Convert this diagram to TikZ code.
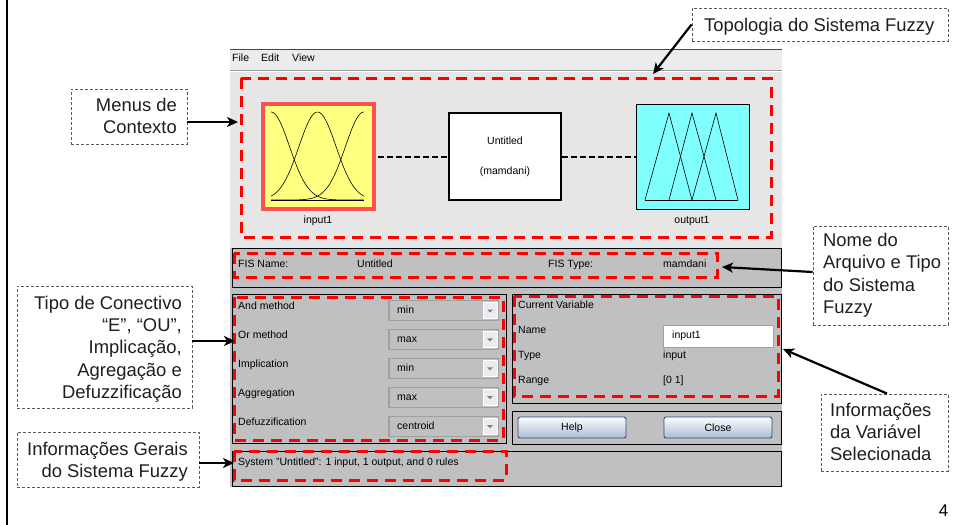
\documentclass[tikz,border=0pt]{standalone}
\usepackage{fontspec}
\setmainfont{Liberation Sans}
\usetikzlibrary{arrows.meta}
\definecolor{winbg}{RGB}{230,230,230}
\definecolor{menubg}{RGB}{236,236,238}
\definecolor{panelgray}{RGB}{192,192,192}
\definecolor{inyellow}{RGB}{255,255,128}
\definecolor{inborder}{RGB}{255,80,80}
\definecolor{outcyan}{RGB}{128,255,255}
\definecolor{calloutgray}{RGB}{90,90,90}
\definecolor{dropborder}{RGB}{160,160,160}
\definecolor{btnblue}{RGB}{45,75,135}
\definecolor{btnlight}{RGB}{252,253,255}
\definecolor{btndark}{RGB}{172,188,214}
\definecolor{arrowbtn}{RGB}{236,236,240}
\definecolor{titleblue}{RGB}{50,70,140}
\begin{document}
\begin{tikzpicture}[x=1pt,y=-1pt,
 reddash/.style={draw=red, line width=3pt, dash pattern=on 11pt off 7pt},
 panel/.style={draw=black, line width=0.9pt},
 callbox/.style={draw=calloutgray, line width=0.9pt, dash pattern=on 3pt off 2pt, inner sep=0},
 calltext/.style={font=\fontsize{18.4}{22.3}\selectfont, inner sep=0, text=black!88},
 wtext/.style={font=\fontsize{10.5}{12}\selectfont, inner sep=0, text height=7.6pt, text depth=2.2pt},
 arr/.style={line width=2.2pt, -{Stealth[length=11pt,width=10pt,inset=3pt]}},
 conn/.style={line width=2pt, dash pattern=on 6pt off 3pt},
 drop/.style={draw=dropborder, line width=1.5pt, fill=panelgray, minimum width=109pt, minimum height=20pt, inner sep=0},
 arrbtn/.style={draw=white, line width=0.8pt, fill=arrowbtn, minimum width=14pt, minimum height=16pt, inner sep=0},
 btn/.style={draw=btnblue, line width=0.9pt, rounded corners=2pt, top color=btnlight, bottom color=btndark, minimum width=108pt, minimum height=21pt, inner sep=0, font=\fontsize{10.5}{12}\selectfont},
 mfline/.style={line width=0.6pt}
]
\useasboundingbox (0,0) rectangle (954,525);
\fill[white] (0,0) rectangle (954,525);
% slide border line
\draw[line width=2.5pt] (7,0) -- (7,525);

% ---------- window ----------
\fill[menubg] (230,49) rectangle (782,70);
\draw[titleblue, line width=1pt] (230,49.5) -- (782,49.5);
\fill[winbg] (230,70) rectangle (782,248);
\draw[black!40, line width=1pt] (230,70) -- (782,70);
\draw[white, line width=1pt] (230,71.2) -- (782,71.2);
\fill[panelgray] (230,248) rectangle (782,487);

\node[wtext, anchor=west] (mfile) at (232,59) {File};
\node[wtext, anchor=west] (medit) at (261,59) {Edit};
\node[wtext, anchor=west] (mview) at (292,59) {View};

% topology area
\draw[reddash] (241,78) rectangle (771,237);

\node[draw=inborder, line width=4pt, fill=inyellow, minimum width=111pt, minimum height=105pt, inner sep=0] (inbox) at (318.5,156.5) {};
\draw[mfline] plot[domain=0:1, samples=60] ({271+93*\x}, {200-88*exp(-(\x*\x)/0.08)});
\draw[mfline] plot[domain=0:1, samples=60] ({271+93*\x}, {200-88*exp(-((\x-0.5)*(\x-0.5))/0.08)});
\draw[mfline] plot[domain=0:1, samples=60] ({271+93*\x}, {200-88*exp(-((\x-1)*(\x-1))/0.08)});
\draw[mfline] (271,200) -- (364,200);
\node[wtext] (inlab) at (318,221) {input1};

\node[draw, line width=1.8pt, fill=white, minimum width=112pt, minimum height=87pt, inner sep=0] (fis) at (505,156.5) {};
\node[wtext] (fisname) at (505,142) {Untitled};
\node[wtext] (fistype) at (505,172) {(mamdani)};

\node[draw, line width=0.8pt, fill=outcyan, minimum width=113pt, minimum height=105pt, inner sep=0] (outbox) at (692.5,156.5) {};
\draw[mfline] (645,200) -- (669,113) -- (692,200);
\draw[mfline] (669,200) -- (692,113) -- (716,200);
\draw[mfline] (692,200) -- (716,113) -- (738,200);
\draw[mfline] (645,200) -- (738,200);
\node[wtext] (outlab) at (692,221) {output1};

\draw[conn, shorten <=2pt] (inbox.east) -- (fis.west);
\draw[conn] (fis.east) -- (outbox.west);

% FIS name panel
\draw[panel] (232,248) rectangle (781,287);
\node[wtext, anchor=west] (fnl) at (238,265) {FIS Name:};
\node[wtext, anchor=west] (fnv) at (357,265) {Untitled};
\node[wtext, anchor=west] (ftl) at (548,265) {FIS Type:};
\node[wtext, anchor=west] (ftv) at (663,265) {mamdani};
\draw[reddash] (234,253) rectangle (717,277);

% methods panel
\draw[panel] (232,294) rectangle (506,443);
\foreach \cy/\val/\lab/\nm in {310.7/min/And method/da, 339.6/max/Or method/db, 368.5/min/Implication/dc, 397.4/max/Aggregation/dd, 426.3/centroid/Defuzzification/de}{
  \node[wtext, anchor=west] (\nm l) at (238,{\cy-4}) {\lab};
  \node[drop] (\nm) at (443.5,\cy) {};
  \node[wtext, anchor=west] (\nm t) at (397,\cy) {\val};
  \node[arrbtn] (\nm b) at (490,\cy) {};
  \fill[black!50] (487,{\cy-1.2}) -- (493,{\cy-1.2}) -- (490,{\cy+1.8}) -- cycle;
}
\draw[reddash] (234,297) rectangle (503,440);

% current variable panel
\draw[panel] (512,294) rectangle (781,403);
\node[wtext, anchor=west] (cvl) at (518,306) {Current Variable};
\node[wtext, anchor=west] (nml) at (518,331) {Name};
\node[draw=dropborder, line width=1pt, fill=white, minimum width=110pt, minimum height=22pt, inner sep=0] (namebox) at (718,336) {};
\node[wtext, anchor=west] (nmv) at (672,336) {input1};
\node[wtext, anchor=west] (tyl) at (518,356) {Type};
\node[wtext, anchor=west] (tyv) at (663,356) {input};
\node[wtext, anchor=west] (rgl) at (518,381) {Range};
\node[wtext, anchor=west] (rgv) at (663,381) {[0 1]};
\draw[reddash] (514,296) rectangle (778,396);

% buttons panel
\draw[panel] (512,411) rectangle (781,444);
\node[btn] (help) at (572,427.5) {Help};
\node[btn] (close) at (718,427.5) {Close};

% status panel
\draw[panel] (232,451) rectangle (781,486);
\node[wtext, anchor=west] (status) at (238,463) {System "Untitled": 1 input, 1 output, and 0 rules};
\draw[reddash] (234,451) rectangle (506,480);

% ---------- callouts ----------
\node[callbox, minimum width=116pt, minimum height=55pt] (menus) at (129,116.5) {};
\node[calltext, anchor=base east, align=right] (menust) at (177,133.3) {Menus de\\Contexto};

\node[callbox, minimum width=256pt, minimum height=33pt] (topo) at (820,24.5) {};
\node[calltext, anchor=base west] (topot) at (704,31) {Topologia do Sistema Fuzzy};

\node[callbox, minimum width=135pt, minimum height=99pt] (nome) at (880.5,275.5) {};
\node[calltext, anchor=base west, align=left] (nomet) at (823,313.5) {Nome do\\Arquivo e Tipo\\do Sistema\\Fuzzy};

\node[callbox, minimum width=175pt, minimum height=122pt] (tipo) at (104.5,347) {};
\node[calltext, anchor=base east, align=right] (tipot) at (182,398.5) {Tipo de Conectivo\\“E”, “OU”,\\Implicação,\\Agregação e\\Defuzzificação};

\node[callbox, minimum width=182pt, minimum height=55pt] (gerais) at (108,459.5) {};
\node[calltext, anchor=base east, align=right] (geraist) at (188,477.5) {Informações Gerais\\do Sistema Fuzzy};

\node[callbox, minimum width=127pt, minimum height=77pt] (var) at (884.5,432.5) {};
\node[calltext, anchor=base west, align=left] (vart) at (830,460.8) {Informações\\da Variável\\Selecionada};

\node[font=\fontsize{17}{19}\selectfont, inner sep=0, anchor=base east] (pagenum) at (948.5,516.7) {4};

% ---------- arrows ----------
\coordinate (tmenus) at (238,122);
\coordinate (ttopo) at (653,74);
\coordinate (tnome) at (722,267);
\coordinate (ttipo) at (235,341);
\coordinate (tgerais) at (234,463);
\coordinate (tvar) at (783,349);
\draw[arr] (menus.east |- tmenus) -- (tmenus);
\draw[arr] (topo.west) -- (ttopo);
\draw[arr] ([yshift=3.5pt]nome.west) -- (tnome);
\draw[arr] (tipo.east |- ttipo) -- (ttipo);
\draw[arr] (gerais.east |- tgerais) -- (tgerais);
\draw[arr] ([xshift=2.5pt]var.north) -- (tvar);
\end{tikzpicture}
\end{document}
